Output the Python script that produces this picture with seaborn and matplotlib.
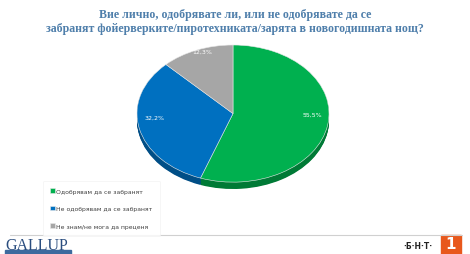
import numpy as np
import matplotlib.pyplot as plt
import seaborn as sns

# survey answers
labels = ["Одобрявам да се забранят", "Не одобрявам да се забранят", "Не знам/не мога да преценя"]
shares = [55.5, 32.2, 12.3]
colors = ["#00b04f", "#0070c0", "#a6a6a6"]
sides = ["#007a36", "#004e86", "#767676"]

title = "Вие лично, одобрявате ли, или не одобрявате да се\nзабранят фойерверките/пиротехниката/зарята в новогодишната нощ?"

sns.set_theme(style="white")
plt.rcParams["font.family"] = ["DejaVu Sans"]

fig = plt.figure(figsize=(4.7, 2.55), dpi=100)
fig.patch.set_facecolor("white")

fig.text(0.5, 1 - 22 / 255, title, ha="center", va="center", fontsize=8.6,
         family=["Liberation Serif", "DejaVu Serif"], fontweight="bold",
         color="#4f7fab", linespacing=1.3)

# pie drawn in a squashed axes to look tilted
ax = fig.add_axes([137 / 470, 65 / 255, 192 / 470, 144 / 255])
depth = 0.1
for d in np.linspace(depth, 0.01, 10):
    ax.pie(shares, colors=sides, startangle=90, counterclock=False,
           center=(0, -d), radius=1, wedgeprops=dict(linewidth=0))
wedges, texts, autotexts = ax.pie(
    shares, colors=colors, startangle=90, counterclock=False,
    autopct=lambda p: f"{p:.1f}%".replace(".", ","), pctdistance=0.84,
    textprops=dict(color="white", fontsize=4.5),
    wedgeprops=dict(linewidth=0.4, edgecolor="#e8e8e8"))
for t in autotexts:
    x, y = t.get_position()
    t.set_position((x, y + 0.13))
    t.set_zorder(10)
ax.set_aspect("auto")
ax.set_xlim(-1.0, 1.0)
ax.set_ylim(-1.0 - depth, 1.0)
ax.axis("off")

# legend box
leg = fig.legend(wedges, labels, loc="upper left", bbox_to_anchor=(43 / 470, 1 - 182 / 255),
                 fontsize=4.4, frameon=True, handlelength=0.7, handleheight=0.7,
                 handletextpad=0.3, labelspacing=2.0, borderpad=1.2, borderaxespad=0)
leg.get_frame().set_edgecolor("#f0f0f0")
leg.get_frame().set_linewidth(0.5)
for txt in leg.get_texts():
    txt.set_color("#404040")

# footer
fig.add_artist(plt.Line2D([10 / 470, 462 / 470], [1 - 236 / 255] * 2, color="#d0d0d0", lw=0.8))
fig.text(5 / 470, 1 - 246 / 255, "GALLUP", fontsize=11.5, family="Liberation Serif",
         color="#2a4d7f", va="center", ha="left")
fig.add_artist(plt.Rectangle((5 / 470, 0), 66 / 470, 4 / 255, color="#3d6a9e"))
fig.text(418 / 470, 1 - 247 / 255, "·Б·Н·Т·", fontsize=5.5, fontweight="bold",
         color="#222222", va="center", ha="center")
fig.add_artist(plt.Rectangle((441 / 470, 0), 20 / 470, 19 / 255, color="#e8581c"))
fig.text(451 / 470, 1 - 245 / 255, "1", fontsize=11, fontweight="bold",
         color="white", va="center", ha="center")

fig.savefig("out.png", dpi=100, facecolor="white")
